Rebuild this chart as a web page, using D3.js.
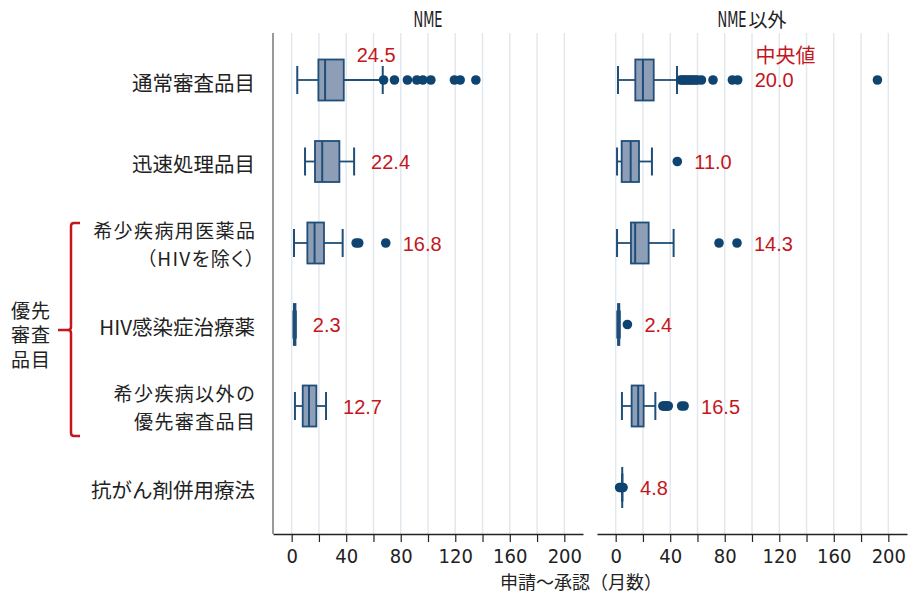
<!DOCTYPE html>
<html lang="ja">
<head>
<meta charset="utf-8">
<script src="https://cdn.jsdelivr.net/npm/d3@7"></script>
<style>
  html, body { margin: 0; padding: 0; background: #fff; }
  svg { display: block; }
</style>
</head>
<body>
<svg id="chart" width="916" height="599"></svg>
<script>
// Review categories (rows), top to bottom
const categories = [
  "通常審査品目",
  "迅速処理品目",
  "希少疾病用医薬品\n（HIVを除く）",
  "HIV感染症治療薬",
  "希少疾病以外の\n優先審査品目",
  "抗がん剤併用療法"
];

const panelTitles = ["NME", "NME以外"];

// Five-number summaries [min whisker, Q1, median, Q3, max whisker], months
const nmeStats = [
  [4.1, 19.6, 24.5, 38.2, 66.8],
  [9.8, 17.1, 22.4, 35.0, 45.8],
  [1.7, 11.5, 16.8, 23.7, 37.4],
  [1.3, 1.6, 2.3, 2.8, 3.0],
  [2.4, 8.1, 12.7, 18.1, 25.2],
  null
];
const otherStats = [
  [1.7, 14.4, 20.0, 27.9, 45.0],
  [1.0, 4.4, 11.0, 17.1, 26.6],
  [1.0, 11.2, 14.3, 24.2, 42.5],
  [1.2, 1.7, 2.4, 2.7, 3.0],
  [4.6, 11.7, 16.5, 20.5, 29.1],
  [4.8, 4.8, 4.8, 4.8, 4.8]
];

// Outlying observations, months
const nmeOutliers = [
  [67.4, 75.4, 84.9, 91.8, 96.2, 102.1, 119.4, 123.6, 135.1],
  [],
  [47.3, 49.2, 69.0],
  [],
  [],
  []
];
const otherOutliers = [
  [47.6, 48.9, 50.3, 51.2, 52.8, 54.1, 55.6, 57.0, 58.7, 60.2, 62.9, 71.4, 85.6, 89.5, 192.0],
  [45.2],
  [75.8, 89.0],
  [8.6],
  [34.6, 35.5, 36.3, 37.0, 37.8, 38.6, 48.4, 50.2],
  [2.9, 3.6, 5.4]
];

const xTicks = [0, 20, 40, 60, 80, 100, 120, 140, 160, 180, 200];
const xTitle = "申請～承認（月数）";
const medianCaption = "中央値";
const bracketLabel = ["優先", "審査", "品目"];

// ---- layout ----
const svg = d3.select("#chart");
const plotTop = 33, plotBottom = 534;
const panelRanges = [[273, 583], [597, 907]];
const xDomain = [-13.7, 213.7];

const y = d3.scaleBand().domain(categories).range([39.25, 528.25]).padding(0);
const step = y.bandwidth();
const boxH = 41, capH = 28, dotR = 4.8;

const stroke = "#1f4e79", fill = "#8e9eb7", dotFill = "#0f4470";
const red = "#c4161c";
const cjk = "'Noto Sans CJK JP', 'Noto Sans', sans-serif";
const narrow = "'Liberation Sans Narrow', 'DejaVu Sans Condensed', 'Liberation Sans', sans-serif";
const latin = "'Liberation Sans', Arial, sans-serif";

const panels = [
  { title: panelTitles[0], stats: nmeStats, outliers: nmeOutliers, range: panelRanges[0], yAxis: true },
  { title: panelTitles[1], stats: otherStats, outliers: otherOutliers, range: panelRanges[1], yAxis: false }
];

panels.forEach((p, pi) => {
  const x = d3.scaleLinear().domain(xDomain).range(p.range);
  const g = svg.append("g");

  // vertical gridlines
  g.append("g").selectAll("line").data(xTicks).join("line")
    .attr("x1", d => x(d)).attr("x2", d => x(d))
    .attr("y1", plotTop).attr("y2", plotBottom)
    .attr("stroke", "#e3e8ee").attr("stroke-width", 1.5);

  // bottom axis
  const ax = g.append("g").attr("transform", `translate(0,${plotBottom})`)
    .call(d3.axisBottom(x).tickValues(xTicks)
      .tickFormat(d => d % 40 === 0 ? d : "")
      .tickSize(8).tickSizeOuter(0).tickPadding(7));
  ax.select(".domain").attr("stroke", "#222").attr("stroke-width", 1.5);
  ax.selectAll(".tick line").attr("stroke", "#222").attr("stroke-width", 1.2);
  ax.selectAll(".tick text").attr("font-family", narrow).attr("font-size", 20).attr("fill", "#222");

  if (p.yAxis) {
    g.append("line").attr("x1", p.range[0]).attr("x2", p.range[0])
      .attr("y1", plotTop).attr("y2", plotBottom)
      .attr("stroke", "#777").attr("stroke-width", 1.5);
  }

  // panel title: Latin part in a condensed face squeezed horizontally, kanji part in the CJK face
  const cx = (p.range[0] + p.range[1]) / 2;
  const m = p.title.match(/^([A-Za-z]+)(.*)$/);
  const latinW = 29, kanjiSize = 19;
  const totalW = latinW + (m[2] ? 2 + m[2].length * kanjiSize : 0);
  const x0 = cx - totalW / 2;
  const lt = g.append("g").attr("transform", `translate(${x0},26.5)`)
    .append("text").attr("x", 0).attr("y", 0)
    .attr("font-family", narrow).attr("font-size", 21).attr("fill", "#222").text(m[1]);
  const natural = lt.node().getComputedTextLength();
  d3.select(lt.node().parentNode).attr("transform", `translate(${x0},26.5) scale(${latinW / natural},1)`);
  if (m[2]) {
    g.append("text").attr("x", x0 + latinW + 2).attr("y", 27)
      .attr("font-family", cjk).attr("font-size", kanjiSize).attr("fill", "#222").text(m[2]);
  }

  // boxes
  categories.forEach((c, i) => {
    const s = p.stats[i];
    const cy = y(c) + step / 2;
    const outs = p.outliers[i];
    if (!s) return;
    const [lo, q1, med, q3, hi] = s;
    const row = g.append("g");
    row.append("line").attr("x1", x(lo)).attr("x2", x(q1)).attr("y1", cy).attr("y2", cy)
      .attr("stroke", stroke).attr("stroke-width", 1.8);
    row.append("line").attr("x1", x(q3)).attr("x2", x(hi)).attr("y1", cy).attr("y2", cy)
      .attr("stroke", stroke).attr("stroke-width", 1.8);
    [lo, hi].forEach(v => row.append("line").attr("x1", x(v)).attr("x2", x(v))
      .attr("y1", cy - capH / 2).attr("y2", cy + capH / 2)
      .attr("stroke", stroke).attr("stroke-width", 2));
    row.append("rect").attr("x", x(q1)).attr("y", cy - boxH / 2)
      .attr("width", Math.max(0, x(q3) - x(q1))).attr("height", boxH)
      .attr("fill", fill).attr("stroke", stroke).attr("stroke-width", 1.8);
    row.append("line").attr("x1", x(med)).attr("x2", x(med))
      .attr("y1", cy - boxH / 2).attr("y2", cy + boxH / 2)
      .attr("stroke", stroke).attr("stroke-width", 2);
    row.selectAll("circle").data(outs).join("circle")
      .attr("cx", d => x(d)).attr("cy", cy).attr("r", dotR).attr("fill", dotFill);

    // median value label
    const label = med.toFixed(1);
    if (i === 0) {
      if (pi === 0) {
        g.append("text").attr("x", x(47.7)).attr("y", cy - 25).attr("dy", "0.35em")
          .attr("font-family", latin).attr("font-size", 20).attr("fill", red).text(label);
      } else {
        g.append("text").attr("x", x(102.5)).attr("y", cy - 24.5).attr("dy", "0.35em")
          .attr("font-family", cjk).attr("font-size", 20).attr("fill", red).text(medianCaption);
        g.append("text").attr("x", x(102)).attr("y", cy).attr("dy", "0.35em")
          .attr("font-family", latin).attr("font-size", 20).attr("fill", red).text(label);
      }
    } else {
      const ext = d3.max([hi, ...outs]);
      g.append("text").attr("x", x(ext) + 17).attr("y", cy + 0.5).attr("dy", "0.35em")
        .attr("font-family", latin).attr("font-size", 20).attr("fill", red).text(label);
    }
  });
});

// row labels: single lines at full size, two-line labels slightly tighter
categories.forEach(c => {
  const cy = y(c) + step / 2;
  const lines = c.split("\n");
  const single = lines.length === 1;
  const offsets = single ? [3.5] : [-11.5, 16];
  lines.forEach((s, k) => {
    const t = svg.append("text").attr("text-anchor", "end")
      .attr("y", cy + offsets[k]).attr("dy", "0.35em")
      .attr("font-family", cjk).attr("fill", "#222")
      .style("font-feature-settings", s.includes("（") ? "'palt'" : "normal")
      .text(s);
    if (single) {
      t.attr("x", 255).attr("font-size", 20.5);
    } else {
      t.attr("x", 256.4).attr("font-size", 19).attr("letter-spacing", 1.4);
    }
  });
});

// bracket grouping the priority-review rows
const bTop = 223, bBot = 436, bx = 71, bMid = 330;
svg.append("path")
  .attr("d", `M80,${bTop} H${bx + 3} Q${bx},${bTop} ${bx},${bTop + 3} V${bMid - 3} Q${bx},${bMid} ${bx - 3},${bMid} H58 M${bx - 3},${bMid} Q${bx},${bMid} ${bx},${bMid + 3} V${bBot - 3} Q${bx},${bBot} ${bx + 3},${bBot} H80`)
  .attr("fill", "none").attr("stroke", red).attr("stroke-width", 2.5);

bracketLabel.forEach((s, i) => {
  svg.append("text").attr("text-anchor", "middle")
    .attr("x", 31).attr("y", 311 + i * 24.5).attr("dy", "0.35em")
    .attr("font-family", cjk).attr("font-size", 19).attr("fill", "#222")
    .attr("letter-spacing", 1).text(s);
});

// x-axis title
svg.append("text").attr("x", 581).attr("y", 582.5).attr("dy", "0.35em")
  .attr("text-anchor", "middle").attr("font-family", cjk).attr("font-size", 18)
  .attr("fill", "#222").text(xTitle);
</script>
</body>
</html>
